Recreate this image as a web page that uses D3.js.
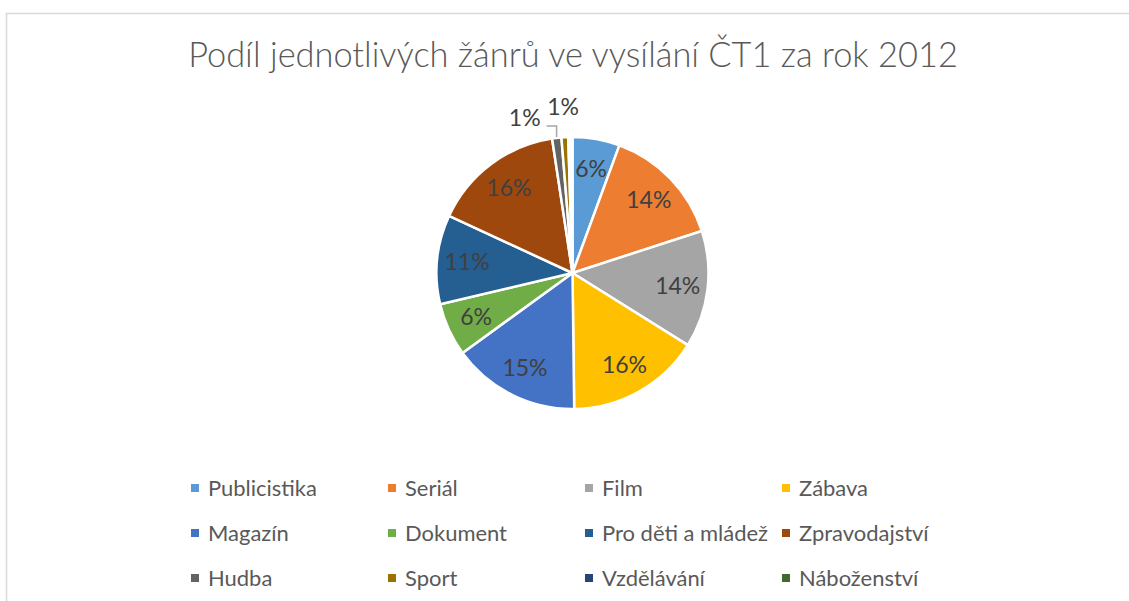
<!DOCTYPE html>
<html><head><meta charset="utf-8">
<script src="https://cdn.jsdelivr.net/npm/d3@7"></script>
<style>html,body{margin:0;padding:0;background:#fff;}svg{display:block;}</style>
</head><body>
<svg id="chart" width="1129" height="601"></svg>
<script>
const title = "Podíl jednotlivých žánrů ve vysílání ČT1 za rok 2012";
const categories = ["Publicistika","Seriál","Film","Zábava","Magazín","Dokument","Pro děti a mládež","Zpravodajství","Hudba","Sport","Vzdělávání","Náboženství"];
const values = [5.6,14.4,13.9,15.9,15.2,6.3,10.6,15.7,1.1,0.8,0.3,0.2];
const colors = ["#5B9BD5","#ED7D31","#A5A5A5","#FFC000","#4472C4","#70AD47","#255E91","#9E480E","#636363","#997300","#264478","#43682B"];

const svg = d3.select("#chart");
const W = 1129, H = 601;
const font = "Lato, 'Open Sans', sans-serif";

// chart border
svg.append("rect").attr("x",6.5).attr("y",13.5).attr("width",W+20).attr("height",H+20)
  .attr("fill","#fff").attr("stroke","#d9d9d9").attr("stroke-width",1.5);

function fit(sel, target){
  const w = sel.node().getComputedTextLength();
  const fs = parseFloat(sel.attr("font-size"));
  sel.attr("font-size", fs*target/w);
}

// title
const t = svg.append("text").attr("x",573).attr("y",67).attr("text-anchor","middle")
  .attr("font-family",font).attr("font-weight",300).attr("font-size",30).attr("fill","#595959").text(title);
fit(t,770);

// pie
const cx = 572.5, cy = 273, R = 136;
const pie = d3.pie().sort(null).value(d=>d);
const arcs = pie(values);
const arc = d3.arc().innerRadius(0).outerRadius(R);
const g = svg.append("g").attr("transform",`translate(${cx},${cy})`);
g.selectAll("path").data(arcs).join("path")
  .attr("d",arc).attr("fill",(d,i)=>colors[i]).attr("stroke","#fff").attr("stroke-width",2.5).attr("stroke-linejoin","round");

// labels
const inner = d3.arc().innerRadius(106*2-0).outerRadius(0);
function pt(a, r){ return [r*Math.sin(a), -r*Math.cos(a)]; }
const labelFs = 23;
arcs.forEach((d,i)=>{
  const v = values[i];
  if (v < 0.5) return;
  const mid = (d.startAngle+d.endAngle)/2;
  const txt = Math.round(v)+"%";
  if (v >= 3) {
    const [x,y] = pt(mid,106);
    g.append("text").attr("x",x).attr("y",y).attr("dy","0.35em").attr("text-anchor","middle")
      .attr("font-family",font).attr("font-size",labelFs).attr("fill","#404040").text(txt);
  } else if (i === 8) {
    const [x0,y0] = pt(mid,R+1);
    const p1 = [x0, y0-11], p2 = [x0-10, y0-11];
    g.append("path").attr("d",d3.line()([[x0,y0],p1,p2])).attr("fill","none").attr("stroke","#a6a6a6").attr("stroke-width",1.5);
    g.append("text").attr("x",p2[0]-6).attr("y",p2[1]-8).attr("dy","0.35em").attr("text-anchor","end")
      .attr("font-family",font).attr("font-size",labelFs).attr("fill","#404040").text(txt);
  } else {
    const [x,y] = pt(mid,R+30);
    g.append("text").attr("x",x).attr("y",y).attr("dy","0.35em").attr("text-anchor","middle")
      .attr("font-family",font).attr("font-size",labelFs).attr("fill","#404040").text(txt);
  }
});

// legend
const colX = d3.scaleLinear().domain([0,3]).range([191,782]);
const rowY = d3.scaleLinear().domain([0,2]).range([488,578]);
const leg = svg.append("g");
let legFs = 22;
categories.forEach((c,i)=>{
  const x = colX(i%4), y = rowY(Math.floor(i/4));
  leg.append("rect").attr("x",x).attr("y",y-4).attr("width",8).attr("height",8).attr("fill",colors[i]);
  leg.append("text").attr("class","lt").attr("x",x+17).attr("y",y).attr("dy","0.35em")
    .attr("font-family",font).attr("font-size",legFs).attr("fill","#595959").text(c);
});
const first = leg.select("text.lt");
const w0 = first.node().getComputedTextLength();
legFs = legFs*109/w0;
leg.selectAll("text.lt").attr("font-size",legFs);
</script>
</body></html>
